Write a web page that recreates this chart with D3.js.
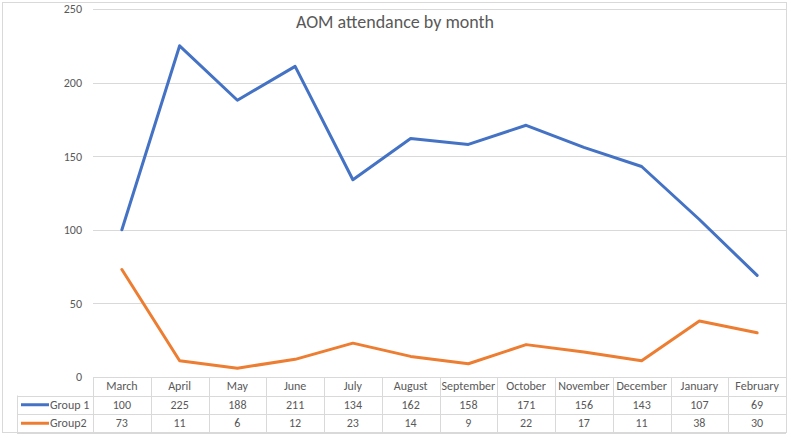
<!DOCTYPE html>
<html>
<head>
<meta charset="utf-8">
<script src="https://cdn.jsdelivr.net/npm/d3@7"></script>
<style>
  body { margin: 0; background: #fff; }
  text { font-family: Calibri, Carlito, "Open Sans", sans-serif; }
</style>
</head>
<body>
<svg id="chart" width="789" height="436"></svg>
<script>
// data
var months = ['March', 'April', 'May', 'June', 'July', 'August', 'September',
    'October', 'November', 'December', 'January', 'February'];
var group1 = [100, 225, 188, 211, 134, 162, 158, 171, 156, 143, 107, 69];
var group2 = [73, 11, 6, 12, 23, 14, 9, 22, 17, 11, 38, 30];
var yTicks = [0, 50, 100, 150, 200, 250];

var seriesList = [
    { name: 'Group 1', values: group1, color: '#4472C4' },
    { name: 'Group2', values: group2, color: '#ED7D31' }
];

// layout
var plot = { left: 93, right: 786, top: 9, bottom: 377 },
    rowH = 18.5,
    legendLeft = 17,
    gridColor = '#d9d9d9',
    textColor = '#595959';

var svg = d3.select('#chart');

// outer chart border
svg.append('rect')
    .attr('x', 2.5).attr('y', 2.5)
    .attr('width', 784).attr('height', 430)
    .attr('fill', '#fff')
    .attr('stroke', '#d9d9d9');

var x = d3.scaleBand()
    .domain(months)
    .range([plot.left, plot.right]);

var y = d3.scaleLinear()
    .domain([0, 250])
    .range([plot.bottom, plot.top]);

// gridlines
svg.append('g')
    .selectAll('line')
    .data(yTicks.slice(1))
    .enter()
    .append('line')
    .attr('x1', plot.left).attr('x2', plot.right)
    .attr('y1', function (d) { return Math.round(y(d)) + 0.5; })
    .attr('y2', function (d) { return Math.round(y(d)) + 0.5; })
    .attr('stroke', gridColor)
    .attr('stroke-width', 1);

// y axis labels
var yAxis = d3.axisLeft(y).tickValues(yTicks).tickSize(0).tickPadding(0);
var yg = svg.append('g')
    .attr('transform', 'translate(' + 82 + ',0)')
    .call(yAxis);
yg.select('.domain').remove();
yg.selectAll('text')
    .attr('fill', textColor)
    .style('font-size', '12px');

// title
svg.append('text')
    .attr('x', 395).attr('y', 28)
    .attr('text-anchor', 'middle')
    .attr('fill', textColor)
    .style('font-size', '18px')
    .text('AOM attendance by month');

// lines
var line = d3.line()
    .x(function (d, i) { return x(months[i]) + x.bandwidth() / 2; })
    .y(function (d) { return y(d); });

svg.append('g')
    .selectAll('path')
    .data(seriesList)
    .enter()
    .append('path')
    .attr('d', function (d) { return line(d.values); })
    .attr('fill', 'none')
    .attr('stroke', function (d) { return d.color; })
    .attr('stroke-width', 3)
    .attr('stroke-linejoin', 'round')
    .attr('stroke-linecap', 'round');

// data table
var table = svg.append('g').attr('class', 'table');
var tableBottom = plot.bottom + rowH * 3;

// horizontal lines
[plot.bottom, plot.bottom + rowH, plot.bottom + rowH * 2, tableBottom].forEach(function (ly, k) {
    table.append('line')
        .attr('x1', k === 0 ? plot.left : legendLeft)
        .attr('x2', plot.right)
        .attr('y1', Math.round(ly) + 0.5).attr('y2', Math.round(ly) + 0.5)
        .attr('stroke', gridColor);
});

// vertical lines
var vx = months.map(function (m) { return x(m); }).concat([plot.right]);
table.selectAll('line.v')
    .data(vx)
    .enter()
    .append('line')
    .attr('class', 'v')
    .attr('x1', function (d) { return Math.round(d) + 0.5; })
    .attr('x2', function (d) { return Math.round(d) + 0.5; })
    .attr('y1', plot.bottom).attr('y2', tableBottom)
    .attr('stroke', gridColor);
table.append('line')
    .attr('x1', legendLeft + 0.5).attr('x2', legendLeft + 0.5)
    .attr('y1', plot.bottom + rowH).attr('y2', tableBottom)
    .attr('stroke', gridColor);

// header row
table.selectAll('text.month')
    .data(months)
    .enter()
    .append('text')
    .attr('class', 'month')
    .attr('x', function (d) { return x(d) + x.bandwidth() / 2; })
    .attr('y', plot.bottom + rowH / 2 + 4)
    .attr('text-anchor', 'middle')
    .attr('fill', textColor)
    .style('font-size', '12px')
    .text(function (d) { return d; });

// series rows
seriesList.forEach(function (s, r) {
    var rowY = plot.bottom + rowH * (r + 1);
    table.append('line')
        .attr('x1', legendLeft + 4).attr('x2', legendLeft + 32)
        .attr('y1', rowY + rowH / 2).attr('y2', rowY + rowH / 2)
        .attr('stroke', s.color)
        .attr('stroke-width', 3);
    table.append('text')
        .attr('x', legendLeft + 33)
        .attr('y', rowY + rowH / 2 + 4)
        .attr('fill', textColor)
        .style('font-size', '12px')
        .text(s.name);
    table.selectAll('text.v' + r)
        .data(s.values)
        .enter()
        .append('text')
        .attr('class', 'v' + r)
        .attr('x', function (d, i) { return x(months[i]) + x.bandwidth() / 2; })
        .attr('y', rowY + rowH / 2 + 4)
        .attr('text-anchor', 'middle')
        .attr('fill', textColor)
        .style('font-size', '12px')
        .text(function (d) { return d; });
});
</script>
</body>
</html>
